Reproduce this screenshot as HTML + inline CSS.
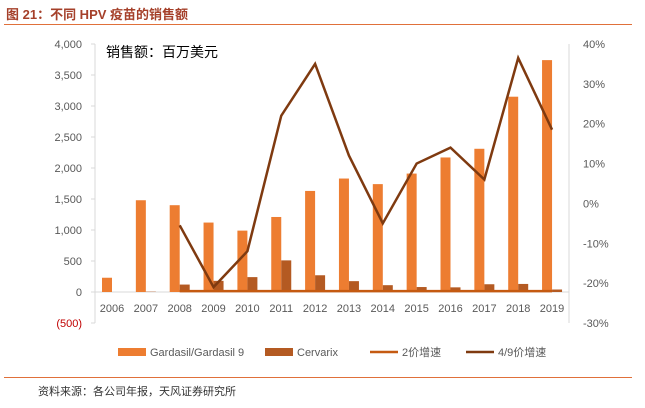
<!DOCTYPE html>
<html><head><meta charset="utf-8"><style>
body{margin:0;background:#fff;font-family:"Liberation Sans","Noto Sans CJK SC",sans-serif;}
#wrap{position:relative;width:645px;height:408px;overflow:hidden;}
</style></head><body>
<div id="wrap">
<div style="position:absolute;left:6px;top:4px;font-size:13px;font-weight:bold;color:#a5402a;">图 21：不同 HPV 疫苗的销售额</div>
<div style="position:absolute;left:4px;top:24px;width:628px;height:1px;background:#e0703a;"></div>
<svg id="chart" width="645" height="408" style="position:absolute;left:0;top:0;"></svg>
<div style="position:absolute;left:4px;top:377px;width:628px;height:1px;background:#e0703a;"></div>
<div style="position:absolute;left:38px;top:383px;font-size:11px;color:#333;">资料来源：各公司年报，天风证券研究所</div>
</div>
<script>
const years=["2006","2007","2008","2009","2010","2011","2012","2013","2014","2015","2016","2017","2018","2019"];
const gardasil=[230,1480,1400,1120,990,1210,1630,1830,1740,1910,2170,2310,3150,3740];
const cervarix=[0,5,120,180,240,510,270,175,110,80,75,125,130,40];
const growth2=[null,null,-22,-22,-22,-22,-22,-22,-22,-22,-22,-22,-22,-22];
const growth49=[null,null,-5.5,-21,-12,22,35,12,-5,10,14,6,36.5,18.5];
const leftTicks=[4000,3500,3000,2500,2000,1500,1000,500,0,-500];
const leftTickLabels=["4,000","3,500","3,000","2,500","2,000","1,500","1,000","500","0","(500)"];
const rightTicks=[40,30,20,10,0,-10,-20,-30];
const NS="http://www.w3.org/2000/svg";
const svg=document.getElementById('chart');
const yL=v=>292-v*(248/4000);
const yR=v=>203.4-v*3.986;
const xC=i=>112+i*33.85;
function mk(t,a){const e=document.createElementNS(NS,t);for(const k in a)e.setAttribute(k,a[k]);svg.appendChild(e);return e;}
// axes
let ax=mk('line',{x1:95,y1:44,x2:95,y2:323,stroke:'#d9d9d9'});


ax=mk('line',{x1:569,y1:44,x2:569,y2:323,stroke:'#d9d9d9'});


ax=mk('line',{x1:95,y1:yL(0),x2:569,y2:yL(0),stroke:'#d9d9d9'});


leftTicks.forEach((v,i)=>{
 const t=mk('text',{x:82,y:yL(v)+4,'text-anchor':'end','font-size':11,fill:v<0?'#c00000':'#595959'});
 t.textContent=leftTickLabels[i];
 
 
 const l=mk('line',{x1:91,y1:yL(v),x2:95,y2:yL(v),stroke:'#d9d9d9'});
 
 
});
rightTicks.forEach(v=>{
 const t=mk('text',{x:583,y:yR(v)+4,'font-size':11,fill:'#595959'});
 t.textContent=v+'%';
 
 
});
years.forEach((y,i)=>{
 const t=mk('text',{x:xC(i),y:312,'text-anchor':'middle','font-size':11,fill:'#595959'});
 t.textContent=y;
 
 
 const g=gardasil[i];
 const b=mk('rect',{x:xC(i)-10,y:Math.min(yL(g),yL(0)),width:10,height:Math.abs(yL(g)-yL(0)),fill:'#ed7d31'});
 
 
 const c=cervarix[i];
 const b2=mk('rect',{x:xC(i),y:Math.min(yL(c),yL(0)),width:10,height:Math.abs(yL(c)-yL(0)),fill:'#b45a22'});
 
 
});
function line(arr,col,name){
 const pts=[];arr.forEach((v,i)=>{if(v!==null)pts.push(xC(i)+','+yR(v));});
 const p=mk('polyline',{points:pts.join(' '),fill:'none',stroke:col,'stroke-width':2.5,'stroke-linejoin':'miter'});
 
 
}
line(growth2,'#c55a11','line-2valent-growth');
line(growth49,'#7f3a10','line-4-9valent-growth');
const u=mk('text',{x:106,y:57,'font-size':14,fill:'#000'});
u.textContent='销售额：百万美元';


// legend
const leg=[['rect','#ed7d31','Gardasil/Gardasil 9',118],['rect','#b45a22','Cervarix',265],['line','#c55a11','2价增速',370],['line','#7f3a10','4/9价增速',466]];
leg.forEach(([k,col,lab,x])=>{
 let m;
 if(k==='rect')m=mk('rect',{x:x,y:348,width:28,height:8,fill:col});
 else m=mk('line',{x1:x,y1:352,x2:x+28,y2:352,stroke:col,'stroke-width':2.5});
 
 
 const t=mk('text',{x:x+32,y:356,'font-size':11,fill:'#595959'});
 t.textContent=lab;
 
 
});
</script>
</body></html>
